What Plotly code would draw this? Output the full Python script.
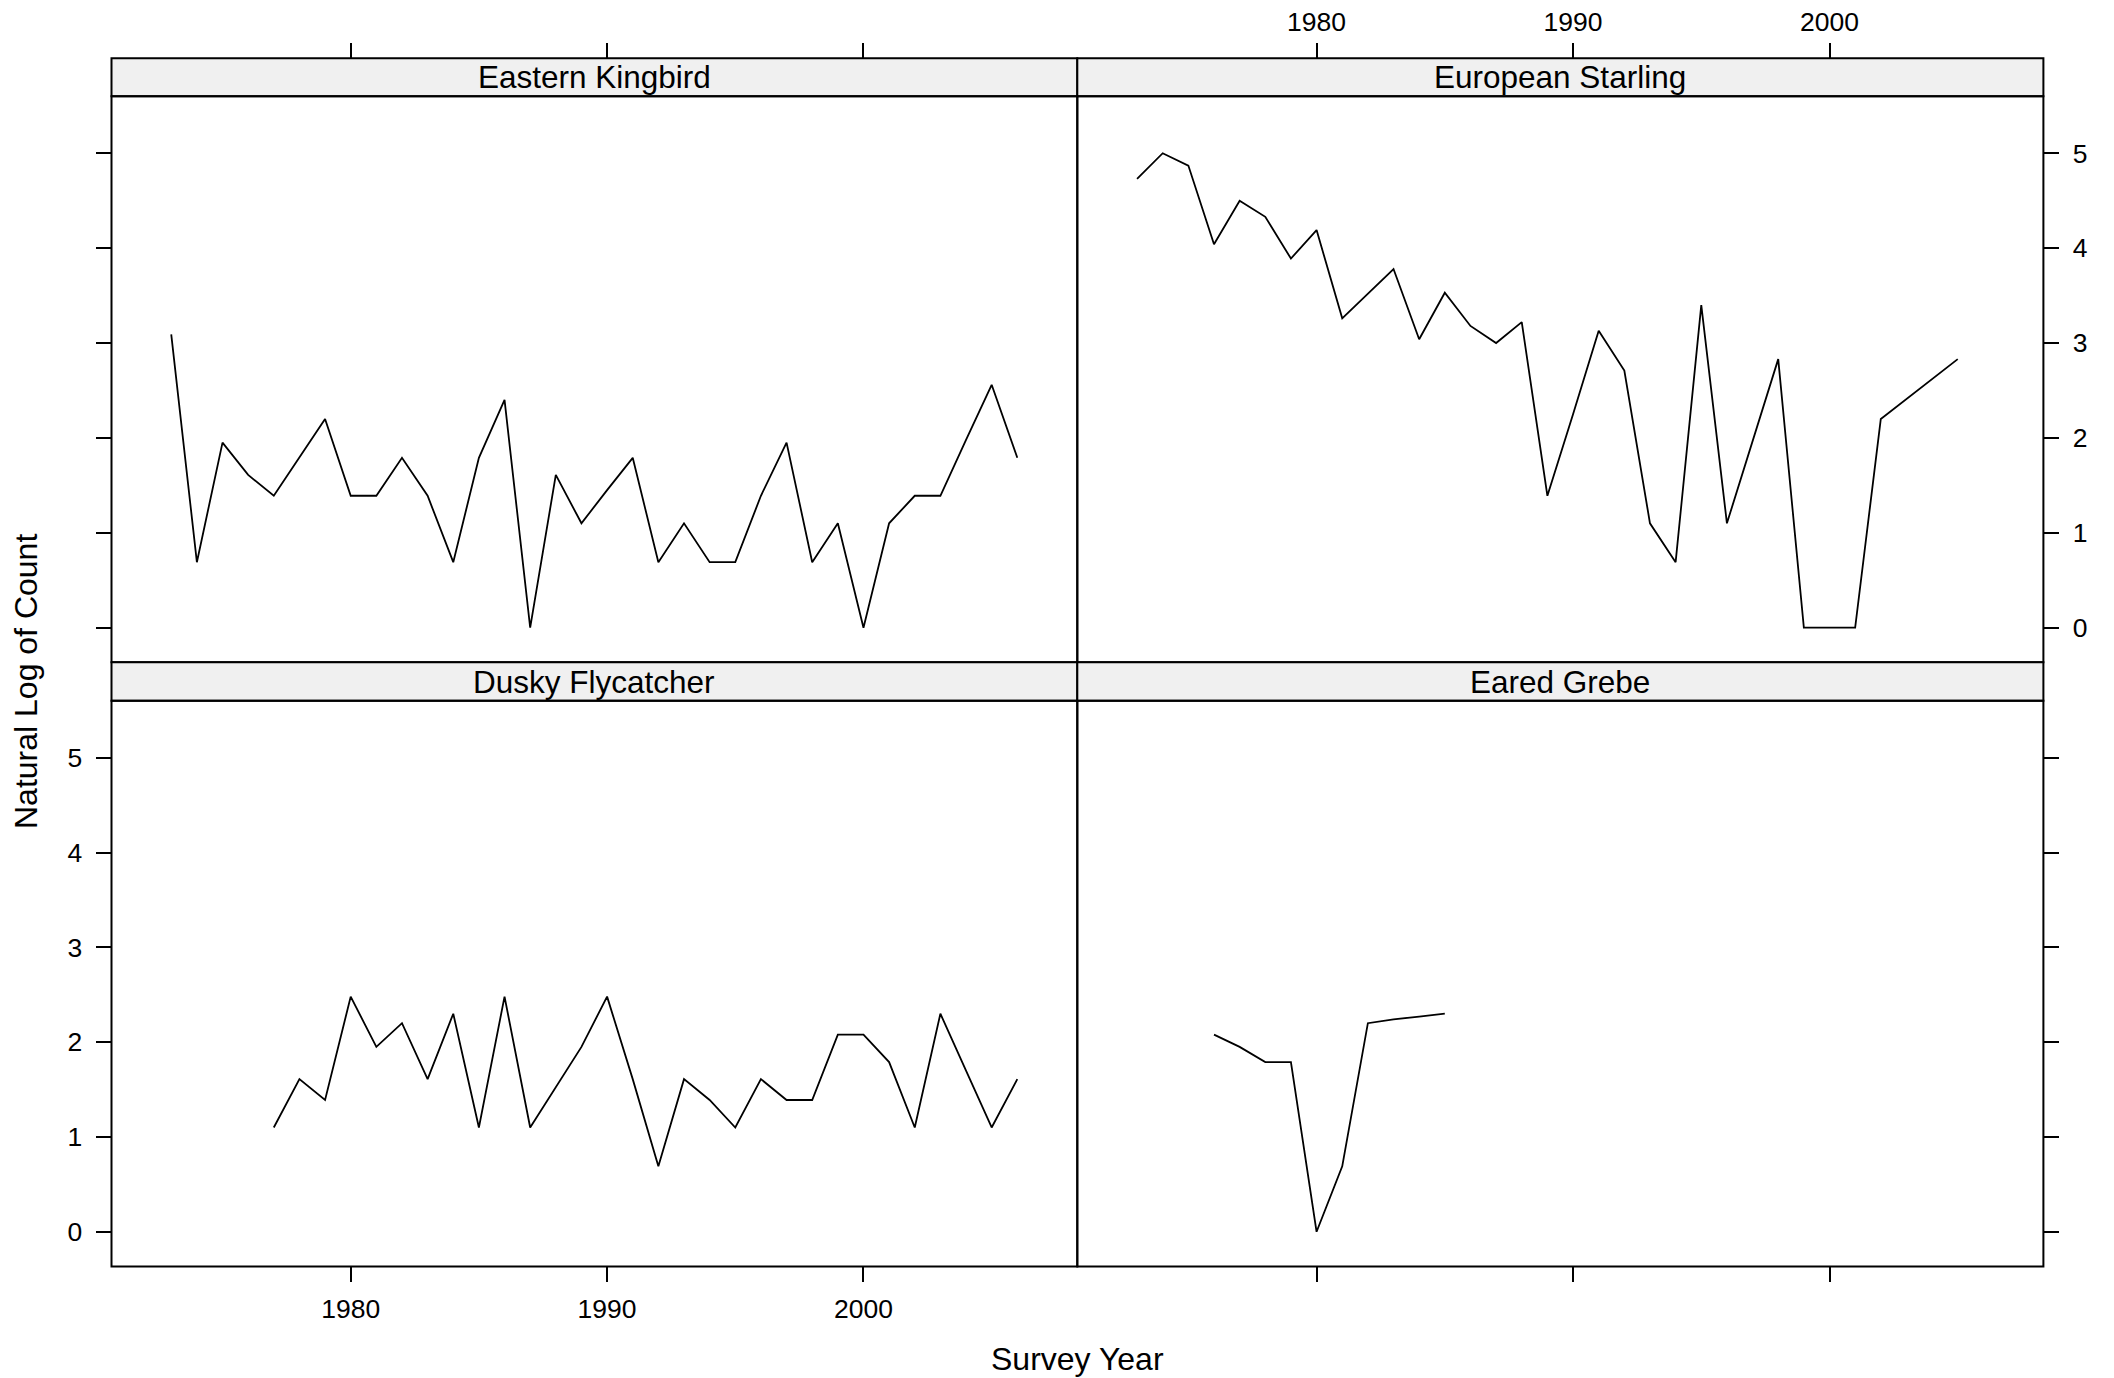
import plotly.graph_objects as go

# ---------------- data (natural log of count) ----------------
kingbird_years = list(range(1973, 2007))
kingbird_vals = [3.09, 0.69, 1.95, 1.61, 1.39, 1.79, 2.20, 1.39, 1.39, 1.79,
                 1.39, 0.69, 1.79, 2.40, 0.00, 1.61, 1.10, 1.45, 1.79, 0.69,
                 1.10, 0.69, 0.69, 1.39, 1.95, 0.69, 1.10, 0.00, 1.10, 1.39,
                 1.39, 1.98, 2.56, 1.79]

starling_years = list(range(1973, 2006))
starling_vals = [4.73, 5.00, 4.87, 4.04, 4.50, 4.33, 3.89, 4.19, 3.26, 3.52,
                 3.78, 3.04, 3.53, 3.18, 3.00, 3.22, 1.39, 2.25, 3.13, 2.71,
                 1.10, 0.69, 3.40, 1.10, 1.96, 2.83, 0.00, 0.00, 0.00, 2.20,
                 2.41, 2.62, 2.83]

dusky_years = list(range(1977, 2007))
dusky_vals = [1.10, 1.61, 1.39, 2.48, 1.95, 2.20, 1.61, 2.30, 1.10, 2.48,
              1.10, 1.52, 1.95, 2.48, 1.61, 0.69, 1.61, 1.39, 1.10, 1.61,
              1.39, 1.39, 2.08, 2.08, 1.79, 1.10, 2.30, 1.70, 1.10, 1.61]

grebe_years = list(range(1976, 1986))
grebe_vals = [2.08, 1.95, 1.79, 1.79, 0.00, 0.69, 2.20, 2.24, 2.27, 2.30]

panel_names = ["Eastern Kingbird", "European Starling", "Dusky Flycatcher", "Eared Grebe"]
x_tickvals = [1980, 1990, 2000]
x_ticktext = ["1980", "1990", "2000"]
y_tickvals = [0, 1, 2, 3, 4, 5]
y_ticktext = ["0", "1", "2", "3", "4", "5"]

x_title = "Survey Year"
y_title = "Natural Log of Count"

# ---------------- layout geometry ----------------
W, H = 2114, 1378
OFF = 8  # default page body margin
FONT = "Liberation Sans, Arial, Helvetica, sans-serif"

def px_x(p):
    return (p - OFF) / W

def px_y(p):
    return 1 - (p - OFF) / H

col_l = [px_x(111.5), px_x(1077.3)]
col_r = [px_x(1077.3), px_x(2043.4)]
row_t = [px_y(662.3), px_y(96.3)]
row_b = [px_y(1266.4), px_y(700.8)]
strip_t = [px_y(96.3), px_y(58.3)]
strip_b = [px_y(700.8), px_y(662.3)]

x_range = [1970.67, 2008.34]
y_range = [-0.365, 5.60]

series = [
    (kingbird_years, kingbird_vals),
    (starling_years, starling_vals),
    (dusky_years, dusky_vals),
    (grebe_years, grebe_vals),
]

fig = go.Figure()
for i, (xs, ys) in enumerate(series):
    suffix = "" if i == 0 else str(i + 1)
    fig.add_trace(go.Scatter(
        x=xs, y=ys, mode="lines",
        line=dict(color="black", width=1.8),
        xaxis="x" + suffix, yaxis="y" + suffix,
        showlegend=False, hoverinfo="skip",
    ))

tick_font = dict(family=FONT, size=26.5, color="black")

common_x = dict(range=x_range, tickvals=x_tickvals, ticktext=x_ticktext,
                ticks="outside", ticklen=15, tickwidth=1.8, tickcolor="black",
                showgrid=False, zeroline=False, showline=False,
                tickfont=tick_font, automargin=False, fixedrange=True,
                ticklabelstandoff=4)
common_y = dict(range=y_range, tickvals=y_tickvals, ticktext=y_ticktext,
                ticks="outside", ticklen=15, tickwidth=1.8, tickcolor="black",
                showgrid=False, zeroline=False, showline=False,
                tickfont=tick_font, automargin=False, fixedrange=True,
                ticklabelstandoff=8)

layout = dict(
    width=W, height=H,
    margin=dict(l=0, r=0, t=0, b=0),
    paper_bgcolor="white", plot_bgcolor="white",
    font=dict(family=FONT, color="black"),
    template="none",
    showlegend=False,
)

# top-left: Eastern Kingbird (x ticks at top above strip, no labels; y ticks left, no labels)
layout["xaxis"] = dict(common_x, domain=col_l, anchor="free", position=strip_t[1],
                       side="top", showticklabels=False, ticklabelstandoff=2)
layout["yaxis"] = dict(common_y, domain=row_t, anchor="x", side="left", showticklabels=False)
# top-right: European Starling (x ticks at top with labels; y right with labels)
layout["xaxis2"] = dict(common_x, domain=col_r, anchor="free", position=strip_t[1],
                        side="top", showticklabels=True, ticklabelstandoff=2)
layout["yaxis2"] = dict(common_y, domain=row_t, anchor="x2", side="right", showticklabels=True)
# bottom-left: Dusky Flycatcher (x bottom labels; y left labels)
layout["xaxis3"] = dict(common_x, domain=col_l, anchor="y3", side="bottom", showticklabels=True)
layout["yaxis3"] = dict(common_y, domain=row_b, anchor="x3", side="left", showticklabels=True)
# bottom-right: Eared Grebe (x bottom ticks no labels; y right ticks no labels)
layout["xaxis4"] = dict(common_x, domain=col_r, anchor="y4", side="bottom", showticklabels=False)
layout["yaxis4"] = dict(common_y, domain=row_b, anchor="x4", side="right", showticklabels=False)

fig.update_layout(**layout)

shapes = []
annotations = []
cells = [(col_l, row_t, strip_t), (col_r, row_t, strip_t),
         (col_l, row_b, strip_b), (col_r, row_b, strip_b)]
for name, (cx, ry, sy) in zip(panel_names, cells):
    # strip
    shapes.append(dict(type="rect", xref="paper", yref="paper",
                       x0=cx[0], x1=cx[1], y0=sy[0], y1=sy[1],
                       fillcolor="#F0F0F0", line=dict(color="black", width=2),
                       layer="above"))
    # panel border
    shapes.append(dict(type="rect", xref="paper", yref="paper",
                       x0=cx[0], x1=cx[1], y0=ry[0], y1=ry[1],
                       fillcolor="rgba(0,0,0,0)", line=dict(color="black", width=2),
                       layer="above"))
    annotations.append(dict(text=name, xref="paper", yref="paper",
                            x=(cx[0] + cx[1]) / 2, y=(sy[0] + sy[1]) / 2,
                            xanchor="center", yanchor="middle", showarrow=False,
                            font=dict(family=FONT, size=31.5, color="black")))

annotations.append(dict(text=x_title, xref="paper", yref="paper",
                        x=col_l[1], y=px_y(1359), xanchor="center", yanchor="middle",
                        showarrow=False, font=dict(family=FONT, size=32, color="black")))
annotations.append(dict(text=y_title, xref="paper", yref="paper",
                        x=px_x(26), y=px_y(682), xanchor="center", yanchor="middle",
                        textangle=-90, showarrow=False,
                        font=dict(family=FONT, size=32, color="black")))

fig.update_layout(shapes=shapes, annotations=annotations)

fig.write_html("out.html")
